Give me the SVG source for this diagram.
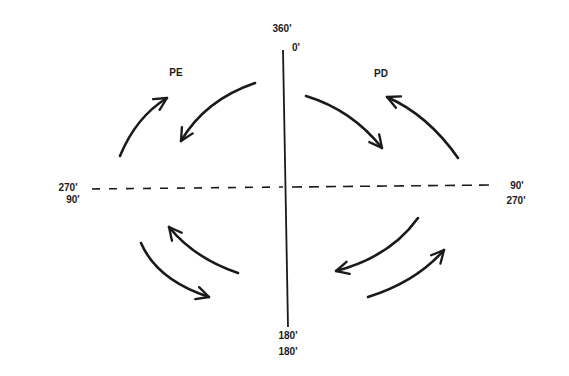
<svg xmlns="http://www.w3.org/2000/svg" width="569" height="376" viewBox="0 0 569 376">
<defs>
<marker id="ah" viewBox="0 0 10 10" refX="9" refY="5" markerWidth="6" markerHeight="6" orient="auto" markerUnits="strokeWidth">
<path d="M1,1 L9,5 L1,9" fill="none" stroke="#1a1a1a" stroke-width="1.5" stroke-linecap="round" stroke-linejoin="round"/>
</marker>
<style>
.t{font-family:"Liberation Sans",Arial,sans-serif;font-size:10px;font-weight:bold;fill:#1a1a1a;text-anchor:middle}
.arc{fill:none;stroke:#1a1a1a;stroke-width:2.6;stroke-linecap:round;marker-end:url(#ah)}
.axis{fill:none;stroke:#1a1a1a;stroke-width:1.8}
.dash{fill:none;stroke:#1a1a1a;stroke-width:1.6;stroke-dasharray:8 9}
</style>
</defs>
<rect width="569" height="376" fill="#ffffff"/>
<g id="connectors">
<path class="axis" d="M283,50 L288,327"/>
<path class="dash" d="M92,189 L283,187"/>
<path class="dash" d="M292,187 L490,185" style="stroke-dasharray:10 7"/>
<path class="arc" d="M120,156 Q136,117 167,98"/>
<path class="arc" d="M255,83 Q205,100 181,141"/>
<path class="arc" d="M306,96 Q352,110 382,148"/>
<path class="arc" d="M458,158 Q428,115 387,97"/>
<path class="arc" d="M238,273 Q194,258 169,227"/>
<path class="arc" d="M141,243 Q157,280 209,297"/>
<path class="arc" d="M418,218 Q390,257 336,271"/>
<path class="arc" d="M368,297 Q416,282 444,250"/>
</g>
<g id="label-top"><text class="t" x="282" y="32">360'</text><text class="t" x="296" y="51">0'</text></g>
<g id="label-left"><text class="t" x="68" y="191">270'</text><text class="t" x="73" y="203">90'</text></g>
<g id="label-right"><text class="t" x="517" y="189">90'</text><text class="t" x="516" y="204">270'</text></g>
<g id="label-bottom"><text class="t" x="288" y="339">180'</text><text class="t" x="288" y="355">180'</text></g>
<g id="label-pe"><text class="t" x="176" y="76">PE</text></g>
<g id="label-pd"><text class="t" x="381" y="77">PD</text></g>
</svg>
